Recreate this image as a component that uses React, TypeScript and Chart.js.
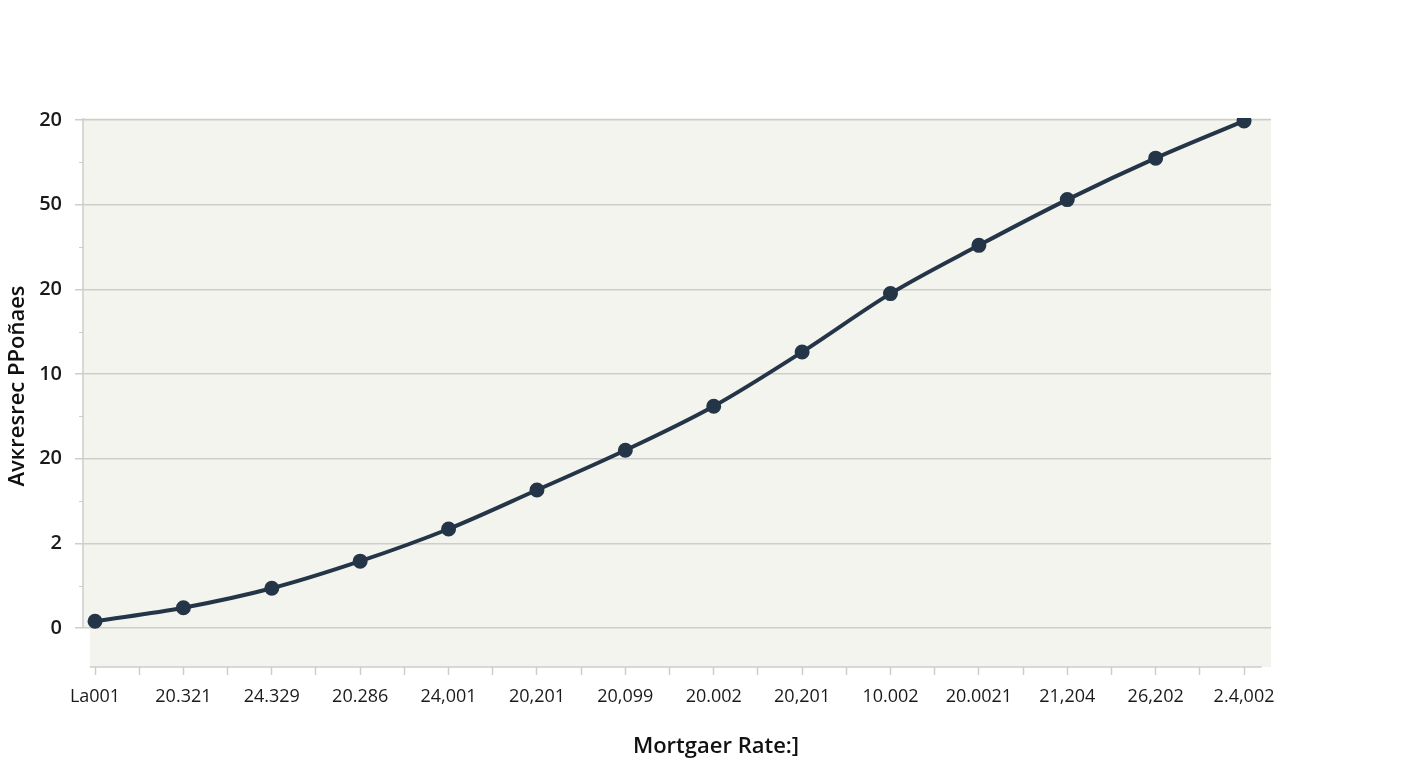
import React, { useEffect, useRef } from "react";
import { Chart, registerables } from "chart.js";

Chart.register(...registerables);

const xLabels = ["La001", "20.321", "24.329", "20.286", "24,001", "20,201", "20,099", "20.002", "20,201", "10.002", "20.0021", "21,204", "26,202", "2.4,002"];
const yTickLabels = ["0", "2", "20", "10", "20", "50", "20"];
const seriesValues = [0.08, 0.24, 0.47, 0.79, 1.17, 1.63, 2.1, 2.62, 3.26, 3.95, 4.52, 5.06, 5.55, 5.99];
const xTitle = "Mortgaer Rate:]";
const yTitle = "Avкresrec PPoñaes";

const FONT = "'Open Sans', 'Noto Sans', sans-serif";
const LINE = "#253548";
const GRID = "#cdcdcb";

const decorPlugin = {
  id: "decor",
  beforeDraw(chart: any) {
    const { ctx, chartArea } = chart;
    const y = chart.scales.y;
    const y0 = y.getPixelForValue(0);
    ctx.save();
    ctx.fillStyle = "#f4f4ef";
    ctx.fillRect(chartArea.left, chartArea.top, chartArea.right - chartArea.left, y0 - chartArea.top);
    ctx.fillRect(chartArea.left + 7, y0, chartArea.right - chartArea.left - 7, chartArea.bottom - y0);
    ctx.restore();
  },
  beforeDatasetsDraw(chart: any) {
    const { ctx, chartArea } = chart;
    const y = chart.scales.y;
    const x = chart.scales.x;
    const y0 = y.getPixelForValue(0);
    ctx.save();
    ctx.strokeStyle = GRID;
    ctx.lineWidth = 1.5;
    ctx.beginPath();
    ctx.moveTo(chartArea.left, chartArea.top);
    ctx.lineTo(chartArea.left, y0);
    ctx.stroke();
    ctx.lineWidth = 1;
    for (let v = 0.5; v < yTickLabels.length - 1; v += 1) {
      const py = Math.round(y.getPixelForValue(v)) + 0.5;
      ctx.beginPath();
      ctx.moveTo(chartArea.left - 4, py);
      ctx.lineTo(chartArea.left, py);
      ctx.stroke();
    }
    ctx.lineWidth = 1.5;
    ctx.beginPath();
    ctx.moveTo(x.getPixelForValue(-0.06), chartArea.bottom);
    ctx.lineTo(x.getPixelForValue(13.2), chartArea.bottom);
    ctx.stroke();
    ctx.restore();
  },
  afterDraw(chart: any) {
    const { ctx } = chart;
    ctx.save();
    ctx.fillStyle = "#111";
    ctx.textAlign = "center";
    ctx.textBaseline = "middle";
    ctx.font = `600 22px ${FONT}`;
    ctx.fillText(xTitle, 716, 747);
    ctx.translate(18, 386);
    ctx.rotate(-Math.PI / 2);
    ctx.font = `600 22px ${FONT}`;
    ctx.fillText(yTitle, 0, 0);
    ctx.restore();
  },
};

export default function App() {
  const ref = useRef<HTMLCanvasElement | null>(null);

  useEffect(() => {
    if (!ref.current) return;
    const points = seriesValues.map((v, i) => ({ x: i, y: v }));
    const xTicks: number[] = [];
    for (let i = 0; i <= (xLabels.length - 1) * 2; i++) xTicks.push(i / 2);
    const yTicks: number[] = [];
    for (let i = 0; i <= (yTickLabels.length - 1) * 2; i++) yTicks.push(i / 2);

    const chart = new Chart(ref.current, {
      type: "line",
      data: {
        datasets: [
          {
            data: points,
            borderColor: LINE,
            backgroundColor: LINE,
            borderWidth: 4,
            pointRadius: 5.5,
            pointBackgroundColor: LINE,
            pointBorderColor: LINE,
            tension: 0.4,
            cubicInterpolationMode: "monotone",
            fill: false,
          },
        ],
      },
      options: {
        responsive: false,
        maintainAspectRatio: false,
        animation: false,
        layout: { padding: { top: 118, right: 137, left: 0, bottom: 0 } },
        plugins: {
          legend: { display: false },
          tooltip: { enabled: false },
        },
        scales: {
          x: {
            type: "linear",
            min: -0.136,
            max: 13.305,
            afterBuildTicks: (scale: any) => {
              scale.ticks = xTicks.map((v) => ({ value: v }));
            },
            afterFit: (scale: any) => {
              scale.height = 101;
            },
            border: { display: false },
            grid: {
              drawOnChartArea: false,
              drawTicks: true,
              tickLength: 8,
              tickColor: GRID,
              tickWidth: 1.5,
            },
            ticks: {
              autoSkip: false,
              maxRotation: 0,
              minRotation: 0,
              padding: 11,
              color: "#1a1a1a",
              font: { family: FONT, size: 18 },
              callback: (value: any) => {
                const v = Number(value);
                return Number.isInteger(v) ? xLabels[v] : "";
              },
            },
            title: { display: false },
          },
          y: {
            type: "linear",
            min: -0.46,
            max: 6.024,
            afterBuildTicks: (scale: any) => {
              scale.ticks = yTicks.map((v) => ({ value: v }));
            },
            afterFit: (scale: any) => {
              scale.width = 83;
            },
            border: { display: false },
            grid: {
              color: (ctx: any) => (Number.isInteger(ctx.tick?.value) ? GRID : "rgba(0,0,0,0)"),
              tickColor: (ctx: any) => (Number.isInteger(ctx.tick?.value) ? GRID : "rgba(0,0,0,0)"),
              lineWidth: 1.5,
              tickLength: 8,
            },
            ticks: {
              autoSkip: false,
              padding: 13,
              color: "#1a1a1a",
              font: { family: FONT, size: 20, weight: "600" },
              callback: (value: any) => {
                const v = Number(value);
                return Number.isInteger(v) ? yTickLabels[v] : "";
              },
            },
            title: { display: false },
          },
        },
      },
      plugins: [decorPlugin],
    } as any);
    return () => chart.destroy();
  }, []);

  return (
    <div style={{ position: "fixed", left: 0, top: 0, width: 1408, height: 768, background: "#fff" }}>
      <canvas ref={ref} width={1408} height={768} style={{ width: 1408, height: 768 }} />
    </div>
  );
}
